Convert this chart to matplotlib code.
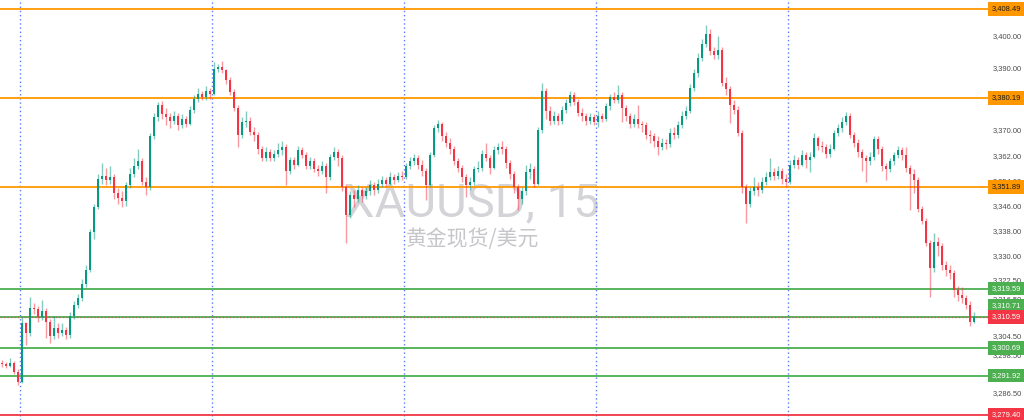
import numpy as np
import matplotlib.pyplot as plt
from matplotlib import transforms

# XAUUSD 15m candles (open = previous close)
first_open = 3296.0
closes = [3295.5, 3295.0, 3295.8, 3293.0, 3289.8, 3308.5, 3305.5, 3313.5, 3313.0, 3310.5, 3312.5, 3309.0,
          3304.5, 3307.0, 3305.5, 3306.5, 3304.8, 3311.0, 3314.5, 3316.5, 3321.0, 3325.5, 3337.5, 3345.5,
          3354.5, 3355.5, 3354.0, 3355.0, 3350.0, 3348.5, 3347.5, 3352.5, 3356.0, 3358.5, 3360.0, 3353.5,
          3352.0, 3368.0, 3374.0, 3378.0, 3375.0, 3374.0, 3373.0, 3374.5, 3371.5, 3373.5, 3372.0, 3376.5,
          3380.0, 3381.5, 3380.5, 3382.5, 3381.5, 3389.5, 3390.0, 3389.0, 3386.0, 3382.0, 3377.0, 3368.5,
          3372.5, 3373.0, 3369.5, 3368.5, 3364.0, 3361.0, 3363.0, 3361.0, 3362.5, 3363.5, 3364.5, 3357.0,
          3360.5, 3359.0, 3363.5, 3362.0, 3358.5, 3360.0, 3357.5, 3357.0, 3358.5, 3355.0, 3361.5, 3363.0,
          3361.0, 3352.0, 3343.0, 3349.5, 3348.0, 3351.0, 3349.0, 3350.5, 3352.5, 3351.0, 3353.0, 3354.0,
          3353.0, 3355.0, 3354.0, 3355.5, 3355.0, 3358.5, 3360.0, 3361.0, 3359.0, 3357.0, 3352.5, 3362.0,
          3370.5, 3372.0, 3368.0, 3366.0, 3364.0, 3360.0, 3358.0, 3355.0, 3352.5, 3353.5, 3357.5, 3358.0,
          3362.5, 3361.0, 3358.0, 3363.5, 3364.5, 3364.0, 3359.5, 3356.0, 3352.0, 3348.0, 3350.5, 3356.5,
          3357.5, 3353.0, 3370.0, 3382.5, 3376.0, 3373.0, 3374.5, 3373.0, 3376.5, 3378.5, 3381.0, 3379.0,
          3375.5, 3374.5, 3373.0, 3374.0, 3372.5, 3374.5, 3373.5, 3377.5, 3380.5, 3379.5, 3381.0, 3377.0,
          3374.5, 3372.0, 3373.5, 3372.0, 3371.5, 3368.5, 3368.0, 3366.5, 3364.5, 3366.0, 3365.5, 3369.0,
          3368.5, 3371.5, 3374.5, 3376.0, 3383.5, 3388.0, 3393.0, 3397.5, 3400.5, 3395.0, 3394.0, 3395.5,
          3385.0, 3383.0, 3378.0, 3376.5, 3369.0, 3352.0, 3346.5, 3350.5, 3352.0, 3351.0, 3353.5, 3355.0,
          3356.5, 3355.5, 3357.0, 3354.5, 3353.5, 3359.0, 3360.5, 3359.0, 3362.0, 3360.5, 3361.5, 3367.5,
          3365.0, 3364.5, 3362.5, 3364.0, 3369.0, 3370.5, 3372.5, 3374.5, 3368.5, 3366.0, 3363.0, 3361.0,
          3360.0, 3361.5, 3367.0, 3364.0, 3358.5, 3357.5, 3360.0, 3362.0, 3363.5, 3362.0, 3358.0, 3356.0,
          3354.0, 3345.0, 3341.0, 3334.0, 3326.0, 3334.5, 3333.0, 3327.0, 3325.5, 3324.5, 3319.0, 3317.5,
          3316.5, 3314.5, 3309.0, 3310.6]
highs = [3297.0, 3296.3, 3297.5, 3296.5, 3294.0, 3310.6, 3309.0, 3316.9, 3315.0, 3314.0, 3316.0, 3313.5,
         3310.0, 3311.0, 3308.5, 3308.5, 3307.5, 3312.0, 3315.5, 3318.0, 3322.5, 3327.0, 3338.5, 3346.5,
         3356.0, 3359.5, 3358.0, 3358.5, 3356.0, 3351.5, 3350.5, 3353.5, 3358.0, 3361.0, 3364.0, 3361.0,
         3355.0, 3369.0, 3375.5, 3379.0, 3379.2, 3377.0, 3375.5, 3376.0, 3375.5, 3375.0, 3374.5, 3377.5,
         3381.0, 3383.5, 3382.5, 3384.0, 3383.5, 3391.6, 3391.0, 3392.0, 3389.5, 3387.0, 3383.0, 3378.0,
         3374.0, 3376.0, 3374.0, 3371.0, 3369.5, 3365.0, 3364.5, 3364.0, 3363.5, 3366.0, 3366.5, 3365.5,
         3361.5, 3361.5, 3365.0, 3364.5, 3363.0, 3361.5, 3361.0, 3359.0, 3360.0, 3359.5, 3362.5, 3364.5,
         3364.0, 3362.0, 3353.0, 3350.5, 3351.0, 3352.5, 3352.0, 3352.0, 3354.0, 3353.5, 3354.5, 3355.5,
         3355.0, 3356.5, 3356.0, 3356.5, 3357.0, 3359.5, 3361.5, 3362.5, 3362.0, 3360.5, 3358.0, 3363.0,
         3371.5, 3373.2, 3372.5, 3369.5, 3367.5, 3365.0, 3361.0, 3359.0, 3356.0, 3355.0, 3358.5, 3360.0,
         3363.5, 3366.0, 3362.0, 3365.0, 3366.0, 3366.5, 3365.0, 3360.5, 3357.0, 3353.0, 3352.0, 3359.0,
         3359.5, 3358.5, 3371.0, 3385.0, 3383.5, 3377.5, 3376.0, 3375.5, 3377.5, 3380.0, 3382.5, 3382.0,
         3380.0, 3377.0, 3375.5, 3375.5, 3375.0, 3376.0, 3375.5, 3378.5, 3381.5, 3382.0, 3384.3, 3382.0,
         3378.0, 3375.5, 3375.0, 3378.0, 3373.0, 3372.5, 3370.0, 3369.0, 3368.0, 3367.5, 3367.0, 3370.5,
         3371.0, 3373.0, 3376.0, 3377.5, 3384.5, 3389.5, 3394.5, 3399.0, 3403.4, 3402.0, 3396.5, 3400.0,
         3396.5, 3387.0, 3384.0, 3379.5, 3377.5, 3370.0, 3353.0, 3352.0, 3355.0, 3353.5, 3355.0, 3356.5,
         3361.0, 3358.0, 3358.5, 3358.0, 3356.0, 3360.5, 3362.0, 3361.5, 3363.5, 3363.0, 3363.0, 3369.0,
         3368.0, 3366.5, 3365.5, 3365.5, 3370.0, 3372.0, 3374.0, 3375.7, 3375.5, 3369.5, 3367.0, 3364.0,
         3362.0, 3363.0, 3368.0, 3368.0, 3365.0, 3359.5, 3361.0, 3363.0, 3365.0, 3364.5, 3364.6, 3359.0,
         3357.5, 3355.0, 3346.0, 3342.0, 3335.0, 3337.3, 3336.0, 3334.0, 3328.5, 3327.0, 3325.5, 3320.5,
         3320.0, 3317.5, 3315.5, 3312.0]
lows = [3294.8, 3294.2, 3294.5, 3292.5, 3288.9, 3289.5, 3301.5, 3304.5, 3311.5, 3309.0, 3309.5, 3304.0,
        3302.3, 3303.5, 3304.0, 3304.5, 3303.5, 3304.0, 3310.0, 3313.5, 3315.5, 3320.0, 3325.0, 3335.5,
        3345.0, 3353.0, 3352.5, 3353.0, 3348.0, 3346.5, 3345.5, 3346.0, 3351.5, 3355.0, 3357.5, 3352.5,
        3349.5, 3351.0, 3367.0, 3373.0, 3373.5, 3371.5, 3370.5, 3372.0, 3370.0, 3370.5, 3371.0, 3371.5,
        3375.5, 3379.0, 3379.5, 3379.5, 3380.0, 3381.0, 3388.5, 3388.0, 3384.5, 3381.0, 3376.0, 3364.6,
        3367.5, 3371.0, 3368.5, 3366.5, 3362.5, 3360.0, 3360.0, 3360.0, 3360.0, 3361.5, 3362.0, 3352.5,
        3356.0, 3357.5, 3358.5, 3361.0, 3357.5, 3357.5, 3356.5, 3355.5, 3356.0, 3350.0, 3354.0, 3360.5,
        3358.5, 3350.5, 3334.0, 3342.0, 3345.5, 3347.0, 3347.0, 3348.0, 3349.5, 3349.5, 3350.0, 3352.0,
        3352.0, 3352.5, 3353.0, 3353.5, 3354.0, 3354.5, 3357.5, 3359.0, 3357.5, 3355.5, 3347.8, 3352.0,
        3361.5, 3369.5, 3366.5, 3364.5, 3362.5, 3359.0, 3356.5, 3353.5, 3348.7, 3351.0, 3352.5, 3356.5,
        3357.0, 3360.0, 3356.0, 3357.5, 3362.5, 3362.5, 3358.0, 3354.5, 3350.0, 3344.6, 3346.5, 3349.5,
        3354.5, 3352.0, 3352.5, 3369.0, 3373.5, 3371.5, 3372.0, 3371.5, 3372.0, 3375.5, 3377.5, 3378.0,
        3374.5, 3373.0, 3371.5, 3372.0, 3371.5, 3371.0, 3372.5, 3373.0, 3376.5, 3378.5, 3378.5, 3372.5,
        3373.0, 3370.5, 3371.0, 3370.5, 3369.5, 3367.0, 3366.0, 3364.5, 3362.0, 3363.5, 3364.0, 3364.5,
        3367.0, 3367.5, 3370.5, 3373.5, 3375.5, 3382.5, 3387.0, 3392.0, 3396.5, 3394.0, 3392.5, 3392.5,
        3384.0, 3381.0, 3372.2, 3375.0, 3368.0, 3350.0, 3340.5, 3345.5, 3349.5, 3349.0, 3350.0, 3352.5,
        3354.0, 3354.0, 3354.5, 3353.0, 3352.0, 3353.0, 3358.0, 3357.5, 3358.5, 3358.0, 3356.5, 3361.0,
        3363.5, 3363.0, 3361.0, 3361.5, 3363.5, 3368.0, 3369.5, 3371.5, 3367.5, 3364.5, 3361.5, 3357.0,
        3353.5, 3359.0, 3360.5, 3362.5, 3357.0, 3354.0, 3356.5, 3359.0, 3361.0, 3360.5, 3356.5, 3344.6,
        3350.0, 3344.0, 3340.0, 3333.0, 3317.0, 3325.0, 3330.0, 3325.5, 3323.5, 3322.5, 3317.0, 3315.5,
        3315.0, 3313.0, 3307.8, 3308.5]

# horizontal levels drawn on the chart
orange_levels = [3408.49, 3380.19, 3351.89]
green_levels = [3319.59, 3310.71, 3300.69, 3291.92]
red_levels = [3279.40]
last_price = 3310.59

# price axis ticks and session breaks (candle index)
tick_values = [3410, 3400, 3390, 3370, 3362, 3354, 3346, 3338, 3330, 3322.5, 3316.5,
               3304.5, 3298.5, 3286.5, 3280.5]
day_breaks = [4.5, 52.5, 100.5, 148.5, 196.5]

GREEN = '#089981'
RED = '#f23645'
ORANGE = '#ff9800'
LEVEL_GREEN = '#4caf50'
SCALE_FONT = ['Liberation Sans Narrow', 'Liberation Sans', 'DejaVu Sans']

closes = np.array(closes)
highs = np.array(highs)
lows = np.array(lows)
opens = np.r_[first_open, closes[:-1]]
x = np.arange(len(closes))
up = closes >= opens
colors = np.where(up, GREEN, RED)

fig = plt.figure(figsize=(10.24, 4.2), dpi=100)
ax = fig.add_axes([0, 0, 988 / 1024, 1])

# watermark
ax.text(0.478, 0.515, 'XAUUSD, 15', transform=ax.transAxes, ha='center', va='center',
        fontsize=34, family='Roboto', color='#d4d4d8', zorder=0)
ax.text(0.478, 0.432, '黄金现货/美元', transform=ax.transAxes, ha='center', va='center',
        fontsize=15, family=['Noto Sans CJK SC', 'DejaVu Sans'], color='#c6c6ca', zorder=0)

# session separators
for d in day_breaks:
    ax.axvline(d, color='#5b7cf5', lw=1, ls=(0, (1, 2)), zorder=1)

# candles
ax.vlines(x, lows, highs, colors=colors, lw=1, alpha=0.5, zorder=2)
body_low = np.minimum(opens, closes)
body_h = np.maximum(np.abs(closes - opens), 0.3)
ax.bar(x, body_h, bottom=body_low, width=0.72, color=colors, linewidth=0, zorder=3)

# levels
for lv in orange_levels:
    ax.axhline(lv, color=ORANGE, lw=1.3, zorder=1.5)
for lv in green_levels:
    ax.axhline(lv, color=LEVEL_GREEN, lw=1.3, zorder=1.5)
for lv in red_levels:
    ax.axhline(lv, color=RED, lw=1.3, zorder=1.5)
ax.axhline(last_price, color=RED, lw=1, ls=(0, (1, 1.5)), alpha=0.6, zorder=1.6)

ax.set_xlim(-0.5, 246.5)
ax.set_ylim(3277.8, 3411.35)

# right price scale
ax.yaxis.tick_right()
ax.set_yticks(tick_values)
ax.set_yticklabels([f'{v:,.2f}' for v in tick_values], family=SCALE_FONT)
ax.tick_params(axis='y', length=0, pad=3.5, labelsize=5.4, labelcolor='#4a4a4a')
ax.set_xticks([])
for s in ax.spines.values():
    s.set_visible(False)

# price labels on the scale
trans = transforms.blended_transform_factory(ax.transAxes, ax.transData)


def price_tag(value, face, text_color, dy=0):
    ax.annotate(f'{value:,.2f}', xy=(1.0, value), xycoords=trans,
                xytext=(2.5, dy), textcoords='offset points', fontsize=5.4,
                family=SCALE_FONT, color=text_color, ha='left', va='center',
                annotation_clip=False,
                bbox=dict(boxstyle='square,pad=0.45', fc=face, ec='none'), zorder=5)


for lv in orange_levels:
    price_tag(lv, ORANGE, '#1a1a1a')
price_tag(3319.59, LEVEL_GREEN, 'white')
price_tag(3310.71, LEVEL_GREEN, 'white', dy=8)
price_tag(3300.69, LEVEL_GREEN, 'white')
price_tag(3291.92, LEVEL_GREEN, 'white')
price_tag(last_price, RED, 'white')
for lv in red_levels:
    price_tag(lv, RED, 'white')

fig.savefig('out.png', dpi=100)
